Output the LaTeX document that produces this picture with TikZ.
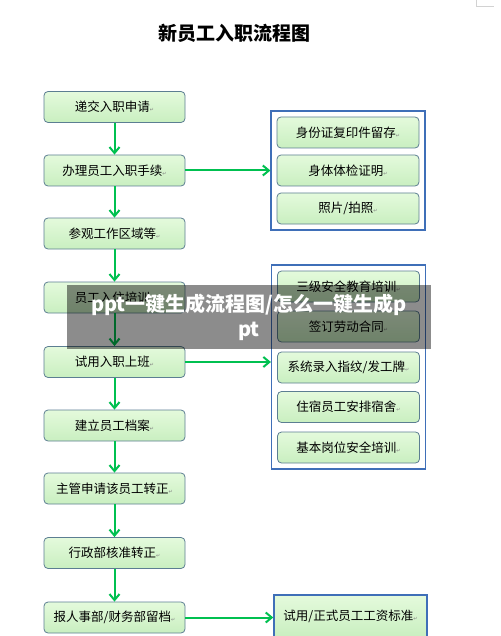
\documentclass[tikz,border=0pt]{standalone}
\usepackage{fontspec}
\newfontfamily\cjk{Noto Sans CJK SC}
\newfontfamily\symf{DejaVu Sans}
\usepackage{xcolor}
\usetikzlibrary{positioning,fit,arrows.meta}
\definecolor{boxtop}{HTML}{E4FADC}
\definecolor{boxbot}{HTML}{C9EFC0}
\definecolor{boxline}{HTML}{5C7E92}
\definecolor{arrgreen}{HTML}{00C050}
\definecolor{grpblue}{HTML}{3F6FB8}
\newcommand{\pmark}{{\symf\fontsize{5}{5}\selectfont\textcolor{gray}{↵}}}
\tikzstyle{stepbox}=[rectangle, draw=boxline, top color=boxtop, bottom color=boxbot,
                     rounded corners=4pt, minimum width=141pt, minimum height=31pt,
                     text centered, line width=0.8pt,
                     font=\cjk\fontsize{12.5}{14}\selectfont]
\tikzstyle{itembox}=[stepbox, minimum width=142pt]
\tikzstyle{group}  =[rectangle, draw=grpblue, line width=1.4pt, inner sep=5.5pt]
\tikzstyle{arr}    =[-{Straight Barb[length=6pt,width=10pt]}, draw=arrgreen, line width=2pt]

\begin{document}
\begin{tikzpicture}[x=1pt, y=-1pt]
  \useasboundingbox (0,0) rectangle (500,636);

  % ── title ───────────────────────────────────────────────────────────────────
  \node[font=\cjk\bfseries\fontsize{19}{22}\selectfont] (title) at (234,33) {新员工入职流程图};
  \draw[gray!35, line width=0.6pt] (476,0) -- (476,6) -- (494,6);

  % ── main column ────────────────────────────────────────────────────────────
  \node[stepbox] (s1) at (114.5,107)   {递交入职申请\pmark};
  \node[stepbox] (s2) at (114.5,170.5) {办理员工入职手续\pmark};
  \node[stepbox] (s3) at (114.5,233.5) {参观工作区域等\pmark};
  \node[stepbox] (s4) at (114.5,297.5) {员工入住培训\pmark};
  \node[stepbox] (s5) at (114.5,362)   {试用入职上班\pmark};
  \node[stepbox] (s6) at (114.5,425.5) {建立员工档案\pmark};
  \node[stepbox] (s7) at (114.5,488.5) {主管申请该员工转正\pmark};
  \node[stepbox] (s8) at (114.5,553)   {行政部核准转正\pmark};
  \node[stepbox] (s9) at (114.5,617.5) {报人事部/财务部留档\pmark};

  \foreach \a/\b in {s1/s2, s2/s3, s3/s4, s4/s5, s5/s6, s6/s7, s7/s8, s8/s9}
    \draw[arr] (\a) -- (\b);

  % ── documents at sign-in ───────────────────────────────────────────────────
  \node[itembox] (d1) at (348,132.5) {身份证复印件留存\pmark};
  \node[itembox] (d2) at (348,170.5) {身体体检证明\pmark};
  \node[itembox] (d3) at (348,208.5) {照片/拍照\pmark};
  \node[group, fit=(d1)(d3)] (g1) {};

  % ── first working day ──────────────────────────────────────────────────────
  \node[itembox] (w1) at (348.5,286.5) {三级安全教育培训\pmark};
  \node[itembox] (w2) at (348.5,326.5) {签订劳动合同\pmark};
  \node[itembox] (w3) at (348.5,367.5) {系统录入指纹/发工牌\pmark};
  \node[itembox] (w4) at (348.5,407)   {住宿员工安排宿舍\pmark};
  \node[itembox] (w5) at (348.5,447.5) {基本岗位安全培训\pmark};
  \node[group, fit=(w1)(w5)] (g2) {};

  % ── salary standard ────────────────────────────────────────────────────────
  \node[group, top color=boxtop, bottom color=boxbot, minimum width=153pt,
        minimum height=42pt, inner sep=0pt, font=\cjk\fontsize{12.5}{14}\selectfont]
        (pay) at (350.5,616) {试用/正式员工工资标准\pmark};

  % ── side branches ──────────────────────────────────────────────────────────
  \draw[arr] (s2.east) -- (s2.east -| g1.west);
  \draw[arr] (s5.east) -- (s5.east -| g2.west);
  \draw[arr] (s9.east) -- (s9.east -| pay.west);

  % ── overlay banner ─────────────────────────────────────────────────────────
  \node[fill=black, fill opacity=0.45, text opacity=1, text=white,
        minimum width=364pt, minimum height=64pt, align=center,
        font=\cjk\bfseries\fontsize{20}{25}\selectfont]
        (banner) at (249,317) {ppt一键生成流程图/怎么一键生成p\\pt};

\end{tikzpicture}
\end{document}
